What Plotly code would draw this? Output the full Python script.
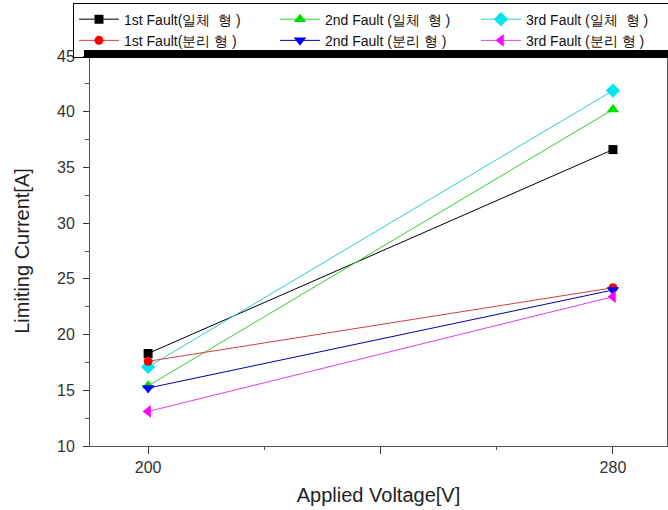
import plotly.graph_objects as go

voltage = [200, 280]

names = [
    "1st Fault(일체  형 )",
    "2nd Fault (일체  형 )",
    "3rd Fault (일체  형 )",
    "1st Fault(분리 형 )",
    "2nd Fault (분리 형 )",
    "3rd Fault (분리 형 )",
]
first_integrated = [18.3, 36.6]
second_integrated = [15.4, 40.2]
third_integrated = [17.1, 41.9]
first_separated = [17.6, 24.2]
second_separated = [15.2, 24.0]
third_separated = [13.1, 23.4]

series = [first_integrated, second_integrated, third_integrated,
          first_separated, second_separated, third_separated]
colors = ["#000000", "#00DD00", "#00E5EE", "#FF0000", "#0000FF", "#FF00FF"]
line_colors = ["#000000", "#33CC33", "#33CCCC", "#D04040", "#0000AA", "#E040E0"]
symbols = ["square", "triangle-up", "diamond", "circle", "triangle-down", "triangle-left"]
sizes = [9, 11, 11, 9, 11, 11]

fig = go.Figure()
for n, s, c, lc, sym, sz in zip(names, series, colors, line_colors, symbols, sizes):
    fig.add_trace(go.Scatter(
        x=voltage, y=s, name=n, mode="lines+markers",
        line=dict(color=lc, width=1),
        marker=dict(color=c, symbol=sym, size=sz, line=dict(width=0)),
    ))

axis_font = dict(family="Liberation Sans, Arial, sans-serif", size=16, color="#333333")

fig.update_layout(
    width=668, height=510,
    margin=dict(l=90, r=1, t=56, b=64, autoexpand=False),
    paper_bgcolor="white", plot_bgcolor="white",
    font=dict(family="Liberation Sans, Arial, sans-serif", color="#222222"),
    showlegend=True,
    legend=dict(
        orientation="h", x=-0.0295, xanchor="left", y=1.137, yanchor="top",
        entrywidth=146, entrywidthmode="pixels",
        bordercolor="#000000", borderwidth=1, bgcolor="rgba(255,255,255,0)",
        font=dict(size=14, color="#111111"),
        tracegroupgap=0, itemwidth=40,
    ),
    xaxis=dict(
        range=[190, 289.3], showgrid=False, zeroline=False, automargin=False,
        tickvals=[200, 240, 280], ticktext=["200", "", "280"],
        ticks="outside", ticklen=7, tickcolor="#333333", tickwidth=1,
        minor=dict(tickvals=[220, 260], ticks="outside", ticklen=3, tickcolor="#555555"),
        showline=True, linecolor="#555555", linewidth=1, mirror=True,
        tickfont=axis_font,
        title=dict(text="Applied Voltage[V]", font=dict(size=20, color="#222222"), standoff=12),
    ),
    yaxis=dict(
        range=[10, 45], showgrid=False, zeroline=False, automargin=False,
        tickvals=[10, 15, 20, 25, 30, 35, 40, 45],
        ticks="outside", ticklen=6, tickcolor="#333333", tickwidth=1, ticklabelstandoff=5,
        minor=dict(tickvals=[12.5, 17.5, 22.5, 27.5, 32.5, 37.5, 42.5], ticks="outside", ticklen=4, tickcolor="#555555"),
        showline=True, linecolor="#555555", linewidth=1, mirror=True,
        tickfont=axis_font,
        title=dict(text="Limiting Current[A]", font=dict(size=20, color="#222222"), standoff=22),
    ),
)

# thick black bar along the top of the plot frame
fig.add_shape(type="rect", xref="paper", yref="paper",
              x0=-0.0104, x1=1.0017, y0=0.9974, y1=1.0154,
              fillcolor="black", line=dict(width=0), layer="above")

fig.write_html("out.html", config={"displayModeBar": False},
               post_script="document.body.style.margin='0';")
